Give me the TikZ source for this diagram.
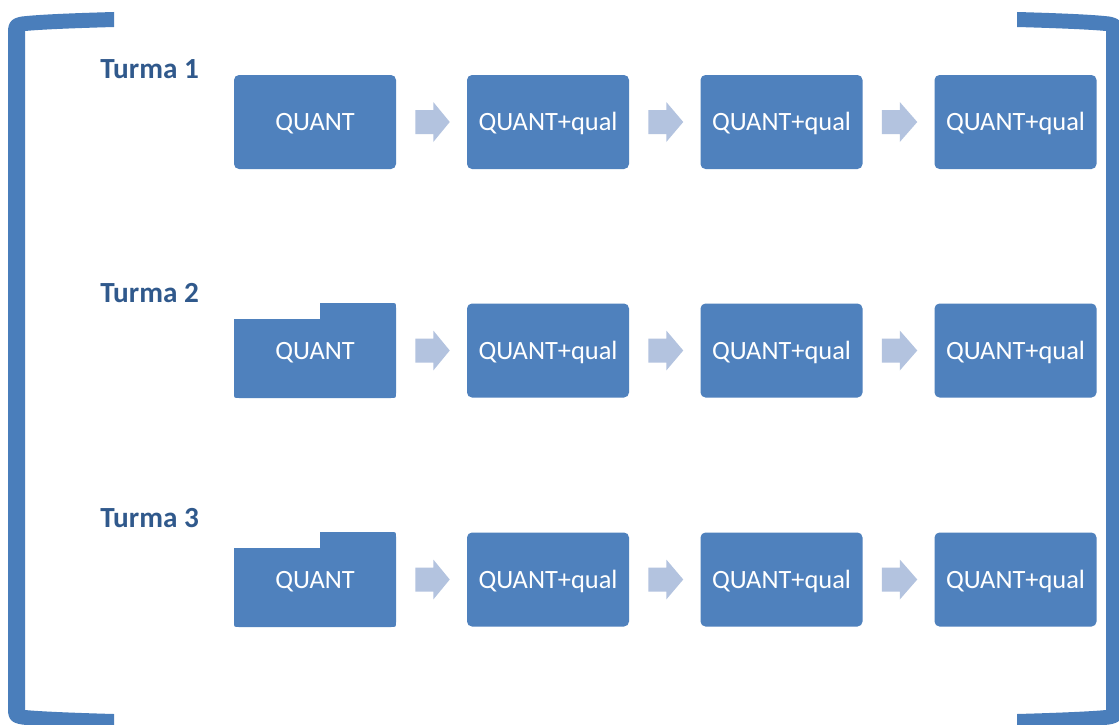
\documentclass[tikz,border=0pt]{standalone}
\usepackage{fontspec}
\setmainfont{Carlito}
\usetikzlibrary{calc}
\definecolor{boxblue}{HTML}{4F81BD}
\definecolor{arrowblue}{HTML}{B3C3DF}
\definecolor{brackblue}{HTML}{4A7EBB}
\definecolor{turmablue}{HTML}{30598C}
\newcommand{\barrow}[2]{%
  \fill[arrowblue] ($(#1.east)+(19,-12)$) -- ($(#1.east)+(37,-12)$) -- ($(#1.east)+(37,-20)$)
    -- ($(#2.west)+(-17,0)$) -- ($(#1.east)+(37,20)$) -- ($(#1.east)+(37,12)$)
    -- ($(#1.east)+(19,12)$) -- cycle;}
% bracket outline; #1 = +1 (left) or -1 (mirrored), #2 = x offset
\newcommand{\bracketshape}[2]{%
  \fill[brackblue] ({#2+#1*114},12) .. controls ({#2+#1*60},13.5) and ({#2+#1*35},15) .. ({#2+#1*22},16.5)
      .. controls ({#2+#1*12},18) and ({#2+#1*8},22) .. ({#2+#1*8},32) -- ({#2+#1*8},709.5)
      .. controls ({#2+#1*8},719.5) and ({#2+#1*12},723) .. ({#2+#1*22},724.5)
      .. controls ({#2+#1*35},726) and ({#2+#1*60},727.5) .. ({#2+#1*114},729) -- ({#2+#1*114},714)
      .. controls ({#2+#1*60},712.5) and ({#2+#1*35},711) .. ({#2+#1*25},710) -- ({#2+#1*25},31)
      .. controls ({#2+#1*35},30) and ({#2+#1*60},28.5) .. ({#2+#1*114},27) -- cycle;}
\tikzset{
  stagebox/.style={fill=boxblue, rounded corners=3.75pt, minimum width=121.5pt,
    minimum height=70.5pt, inner sep=0pt, text=white,
    font=\fontsize{19.8pt}{24pt}\selectfont, text height=12.75pt, text depth=0pt},
  folderbox/.style={stagebox, fill=none, minimum height=71.25pt},
  turma/.style={anchor=base west, inner sep=0pt, text=turmablue,
    font=\bfseries\fontsize{21.9pt}{26pt}\selectfont}
}
\begin{document}
\begin{tikzpicture}[x=0.75pt, y=-0.75pt]
\useasboundingbox (0,0) rectangle (1119,724);
\clip (0,0) rectangle (1119,724);
\fill[white] (0,0) rectangle (1119,724);
% brackets
\bracketshape{1}{0}
\bracketshape{-1}{1131}
% labels
\node[turma] (t1) at (100,79) {Turma 1};
\node[turma] (t2) at (100,302) {Turma 2};
\node[turma] (t3) at (100,527) {Turma 3};
% row 1
\node[stagebox] (a1) at (315,122) {QUANT};
\node[stagebox] (a2) at (548,122) {QUANT+qual};
\node[stagebox] (a3) at (781.5,122) {QUANT+qual};
\node[stagebox] (a4) at (1015.5,122) {QUANT+qual};
% row 2
\fill[boxblue] (234,319) -- (320,319) -- (320,303) -- (391,303) .. controls (396,303) .. (396,308)
  -- (396,393) .. controls (396,398) .. (391,398) -- (239,398) .. controls (234,398) .. (234,393) -- cycle;
\node[folderbox] (b1) at (315,350.5) {QUANT};
\node[stagebox] (b2) at (548,350.5) {QUANT+qual};
\node[stagebox] (b3) at (781.5,350.5) {QUANT+qual};
\node[stagebox] (b4) at (1015.5,350.5) {QUANT+qual};
% row 3
\fill[boxblue] (234,548) -- (320,548) -- (320,532) -- (391,532) .. controls (396,532) .. (396,537)
  -- (396,622) .. controls (396,627) .. (391,627) -- (239,627) .. controls (234,627) .. (234,622) -- cycle;
\node[folderbox] (c1) at (315,579.5) {QUANT};
\node[stagebox] (c2) at (548,579.5) {QUANT+qual};
\node[stagebox] (c3) at (781.5,579.5) {QUANT+qual};
\node[stagebox] (c4) at (1015.5,579.5) {QUANT+qual};
% arrows
\barrow{a1}{a2}\barrow{a2}{a3}\barrow{a3}{a4}
\barrow{b1}{b2}\barrow{b2}{b3}\barrow{b3}{b4}
\barrow{c1}{c2}\barrow{c2}{c3}\barrow{c3}{c4}
\end{tikzpicture}
\end{document}
